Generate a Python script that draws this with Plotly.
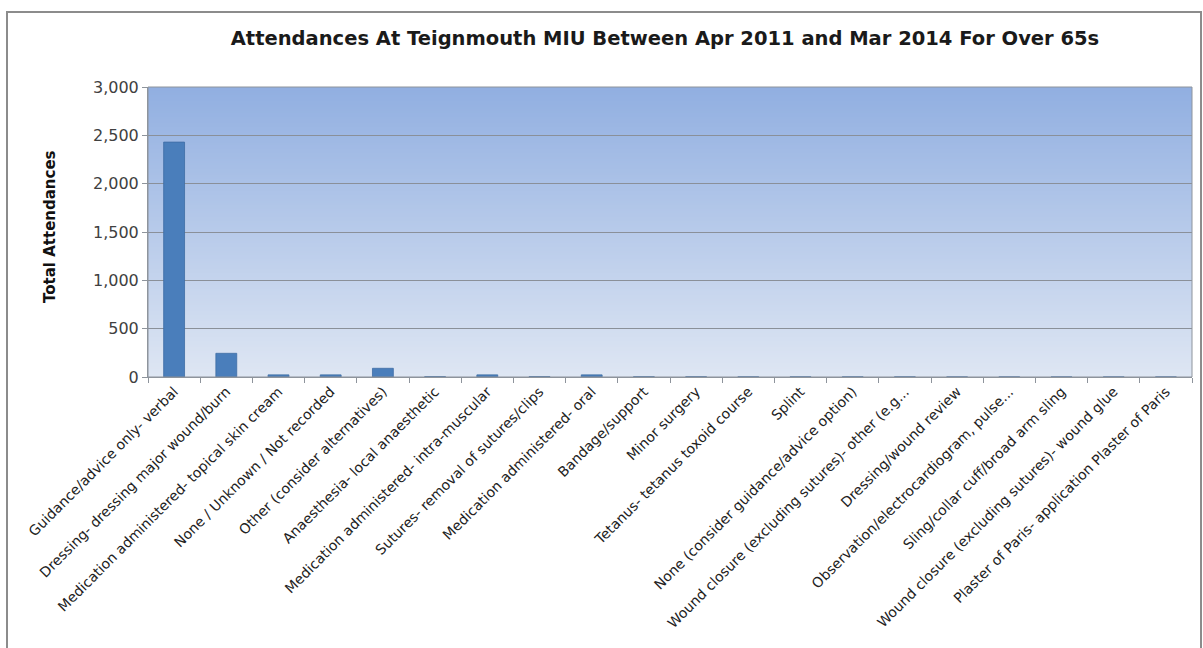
import plotly.graph_objects as go

categories = [
    "Guidance/advice only- verbal",
    "Dressing- dressing major wound/burn",
    "Medication administered- topical skin cream",
    "None / Unknown / Not recorded",
    "Other (consider alternatives)",
    "Anaesthesia- local anaesthetic",
    "Medication administered- intra-muscular",
    "Sutures- removal of sutures/clips",
    "Medication administered- oral",
    "Bandage/support",
    "Minor surgery",
    "Tetanus- tetanus toxoid course",
    "Splint",
    "None (consider guidance/advice option)",
    "Wound closure (excluding sutures)- other (e.g...",
    "Dressing/wound review",
    "Observation/electrocardiogram, pulse...",
    "Sling/collar cuff/broad arm sling",
    "Wound closure (excluding sutures)- wound glue",
    "Plaster of Paris- application Plaster of Paris",
]
attendances = [2430, 245, 22, 22, 90, 4, 22, 4, 22, 3, 3, 2, 2, 2, 2, 1, 1, 1, 1, 1]
y_ticks = [0, 500, 1000, 1500, 2000, 2500, 3000]
y_tick_labels = ["0", "500", "1,000", "1,500", "2,000", "2,500", "3,000"]

W, H = 1203, 648
L, R, T, B = 148, 1192, 87, 377
pw, ph = R - L, B - T

fig = go.Figure()
fig.add_trace(go.Bar(
    x=categories, y=attendances,
    marker=dict(color="#4A7EBB", line=dict(color="#3D6CA5", width=0.8)),
    width=0.4,
))

# gradient background (top dark -> bottom light)
top = (145, 175, 225)
bot = (222, 230, 243)
n = 145
shapes = []
for i in range(n):
    f = i / (n - 1)
    c = tuple(round(top[k] + (bot[k] - top[k]) * f) for k in range(3))
    shapes.append(dict(type="rect", xref="paper", yref="paper",
                       x0=0, x1=1, y0=1 - (i + 1) / n, y1=1 - i / n,
                       fillcolor="rgb(%d,%d,%d)" % c, line=dict(width=0), layer="below"))
# plot area border
shapes.append(dict(type="rect", xref="paper", yref="paper", x0=0, x1=1, y0=0, y1=1,
                   line=dict(color="#8E949C", width=1), layer="above"))
# outer chart border
shapes.append(dict(type="rect", xref="paper", yref="paper",
                   x0=(7 - L) / pw, x1=(1201 - L) / pw,
                   y0=(B - 652) / ph, y1=(B - 12) / ph,
                   line=dict(color="#8C8C8C", width=2), layer="above"))

fig.update_layout(
    width=W, height=H,
    margin=dict(l=L, r=W - R, t=T, b=H - B),
    paper_bgcolor="white",
    plot_bgcolor="rgba(0,0,0,0)",
    shapes=shapes,
    showlegend=False,
    bargap=0.6,
    title=dict(text="<b>Attendances At Teignmouth MIU Between Apr 2011 and Mar 2014 For Over 65s</b>",
               x=(232 + 1098) / 2 / W, xanchor="center", y=1 - 38 / H, yanchor="middle",
               font=dict(family="DejaVu Sans, sans-serif", size=19.5, color="#1a1a1a")),
    xaxis=dict(
        type="category", tickangle=-45,
        tickfont=dict(family="DejaVu Sans, sans-serif", size=14, color="#222"),
        showgrid=False, showline=True, linecolor="#8E949C", linewidth=1,
        ticks="outside", ticklen=5, tickcolor="#8E949C",
        tickson="boundaries", automargin=False,
    ),
    yaxis=dict(
        range=[0, 3000], tickvals=y_ticks, ticktext=y_tick_labels,
        tickfont=dict(family="DejaVu Sans, sans-serif", size=16, color="#404040"),
        showgrid=True, gridcolor="#8A9099", gridwidth=1,
        showline=True, linecolor="#8E949C", linewidth=1,
        ticks="outside", ticklen=5, tickcolor="#8E949C",
        zeroline=False, automargin=False,
    ),
    annotations=[dict(
        text="<b>Total Attendances</b>", textangle=-90,
        xref="paper", yref="paper", x=(50 - L) / pw, y=(B - 227) / ph,
        xanchor="center", yanchor="middle", showarrow=False,
        font=dict(family="DejaVu Sans, sans-serif", size=15, color="#111"),
    )],
)

fig.write_html("out.html")
